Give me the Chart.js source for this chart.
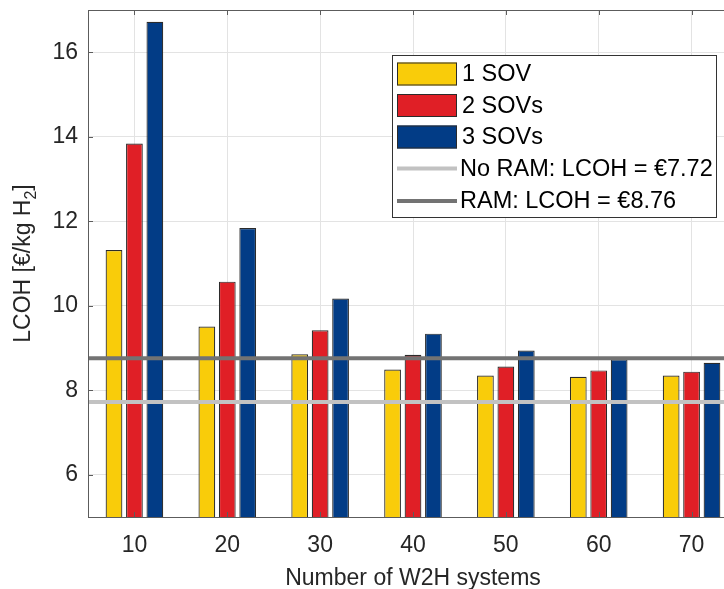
<!DOCTYPE html>
<html>
<head>
<meta charset="utf-8">
<script src="https://cdn.jsdelivr.net/npm/chart.js@4/dist/chart.umd.min.js"></script>
<style>
  html, body { margin: 0; padding: 0; background: #ffffff; overflow: hidden; }
  #wrap { width: 724px; height: 589px; overflow: hidden; }
  canvas { display: block; }
</style>
</head>
<body>
<div id="wrap"><canvas id="chart" width="738" height="589"></canvas></div>
<script>
// LCOH per number of W2H systems, for 1, 2 and 3 SOVs
const categories = ['10', '20', '30', '40', '50', '60', '70'];
const sov1 = [11.32, 9.51, 8.85, 8.49, 8.35, 8.32, 8.35];
const sov2 = [13.84, 10.57, 9.42, 8.84, 8.56, 8.47, 8.44];
const sov3 = [16.72, 11.84, 10.17, 9.34, 8.94, 8.73, 8.65];
const seriesLabels = ['1 SOV', '2 SOVs', '3 SOVs'];
const seriesColors = ['#F9CC0A', '#E01F26', '#023C86'];

// Reference levels
const lcohNoRam = 7.72;
const lcohRam = 8.76;
const refLines = [
  { value: lcohNoRam, label: 'No RAM: LCOH = €' + lcohNoRam.toFixed(2), color: '#c2c2c2' },
  { value: lcohRam, label: 'RAM: LCOH = €' + lcohRam.toFixed(2), color: '#737373' }
];

// Axis
const yMin = 5, yMax = 17;
const yTickValues = [6, 8, 10, 12, 14, 16];

const FONT = "'Liberation Sans', Arial, Helvetica, sans-serif";
const TEXT = '#262626';
const AXIS = '#5c5c5c';

// Horizontal reference lines across the whole plot
const refLinePlugin = {
  id: 'refLines',
  afterDatasetsDraw(chart) {
    const { ctx, chartArea, scales } = chart;
    ctx.save();
    refLines.forEach(r => {
      const y = scales.y.getPixelForValue(r.value);
      ctx.strokeStyle = r.color;
      ctx.lineWidth = 4;
      ctx.beginPath();
      ctx.moveTo(chartArea.left, y);
      ctx.lineTo(chartArea.right, y);
      ctx.stroke();
    });
    ctx.restore();
  }
};

// Box outline and inward tick marks
const boxPlugin = {
  id: 'boxTicks',
  afterDatasetsDraw(chart) {
    const { ctx, chartArea, scales } = chart;
    const { left, right, top, bottom } = chartArea;
    ctx.save();
    ctx.strokeStyle = AXIS;
    ctx.lineWidth = 1;
    ctx.beginPath();
    ctx.moveTo(left, top + 0.5);
    ctx.lineTo(right, top + 0.5);
    ctx.moveTo(left + 0.5, top);
    ctx.lineTo(left + 0.5, bottom);
    ctx.moveTo(left, bottom + 0.5);
    ctx.lineTo(right, bottom + 0.5);
    const tl = 5;
    scales.y.ticks.forEach(t => {
      const y = Math.round(scales.y.getPixelForValue(t.value)) + 0.5;
      ctx.moveTo(left, y);
      ctx.lineTo(left + tl, y);
    });
    categories.forEach((c, i) => {
      const x = Math.round(scales.x.getPixelForValue(i)) + 0.5;
      ctx.moveTo(x, bottom);
      ctx.lineTo(x, bottom - tl);
      ctx.moveTo(x, top);
      ctx.lineTo(x, top + tl);
    });
    ctx.stroke();
    ctx.restore();
  }
};

// Y-axis title with a subscript
const yTitlePlugin = {
  id: 'yTitle',
  afterDraw(chart) {
    const { ctx, chartArea } = chart;
    const main = 'LCOH [€/kg H';
    const sub = '2';
    const tail = ']';
    const big = '23px ' + FONT;
    const small = '16px ' + FONT;
    ctx.save();
    ctx.font = big;
    const w1 = ctx.measureText(main).width;
    const w3 = ctx.measureText(tail).width;
    ctx.font = small;
    const w2 = ctx.measureText(sub).width;
    const total = w1 + w2 + w3;
    const cy = (chartArea.top + chartArea.bottom) / 2;
    ctx.translate(30, cy + total / 2);
    ctx.rotate(-Math.PI / 2);
    ctx.fillStyle = TEXT;
    ctx.textBaseline = 'alphabetic';
    ctx.textAlign = 'left';
    ctx.font = big;
    ctx.fillText(main, 0, 0);
    ctx.font = small;
    ctx.fillText(sub, w1, 6);
    ctx.font = big;
    ctx.fillText(tail, w1 + w2, 0);
    ctx.restore();
  }
};

// Legend box in the upper right
const legendPlugin = {
  id: 'boxLegend',
  afterDraw(chart) {
    const { ctx } = chart;
    const box = { x: 392.5, y: 55.5, w: 324, h: 162 };
    const rows = [74, 105.5, 137, 168.5, 201];
    const swX = 397, swW = 60, swH = 23, textX = 462;
    ctx.save();
    ctx.fillStyle = '#ffffff';
    ctx.fillRect(box.x, box.y, box.w, box.h);
    ctx.strokeStyle = '#333333';
    ctx.lineWidth = 1;
    ctx.strokeRect(box.x, box.y, box.w, box.h);
    ctx.font = '23.5px ' + FONT;
    ctx.textBaseline = 'middle';
    ctx.textAlign = 'left';
    chart.data.datasets.forEach((ds, i) => {
      const cy = rows[i];
      ctx.fillStyle = ds.backgroundColor;
      ctx.fillRect(swX, cy - swH / 2, swW, swH);
      ctx.strokeStyle = '#2b2b2b';
      ctx.strokeRect(swX + 0.5, cy - swH / 2 + 0.5, swW - 1, swH - 1);
      ctx.fillStyle = '#000000';
      ctx.fillText(ds.label, textX, cy + 1);
    });
    refLines.forEach((r, j) => {
      const cy = rows[3 + j];
      ctx.strokeStyle = r.color;
      ctx.lineWidth = 4;
      ctx.beginPath();
      ctx.moveTo(swX, cy);
      ctx.lineTo(swX + swW, cy);
      ctx.stroke();
      ctx.fillStyle = '#000000';
      ctx.fillText(r.label, textX - 2, cy + 1);
    });
    ctx.restore();
  }
};

const seriesData = [sov1, sov2, sov3];

new Chart(document.getElementById('chart'), {
  type: 'bar',
  data: {
    labels: categories,
    datasets: seriesData.map((d, i) => ({
      label: seriesLabels[i],
      data: d,
      backgroundColor: seriesColors[i],
      borderColor: '#2b2b2b',
      borderWidth: 1.2,
      borderSkipped: false,
      categoryPercentage: 0.66,
      barPercentage: 0.82
    }))
  },
  options: {
    responsive: false,
    devicePixelRatio: 1,
    animation: false,
    layout: { padding: { left: 0, right: 0, top: 10, bottom: 0 } },
    plugins: {
      legend: { display: false },
      title: { display: false },
      tooltip: { enabled: false }
    },
    scales: {
      x: {
        type: 'category',
        offset: true,
        grid: { color: '#e3e3e3', drawTicks: false, offset: false },
        border: { display: false },
        ticks: {
          font: { family: FONT, size: 23 },
          color: TEXT,
          padding: 15,
          maxRotation: 0
        },
        title: {
          display: true,
          text: 'Number of W2H systems',
          font: { family: FONT, size: 23 },
          color: TEXT,
          padding: { top: 0, bottom: -3 }
        },
        afterFit(scale) {
          scale.height = 72;
          scale.paddingLeft = 0;
          scale.paddingRight = 0;
        }
      },
      y: {
        min: yMin,
        max: yMax,
        grid: { color: '#e3e3e3', drawTicks: false },
        border: { display: false },
        afterBuildTicks(scale) {
          scale.ticks = yTickValues.map(v => ({ value: v }));
        },
        ticks: {
          font: { family: FONT, size: 23 },
          color: TEXT,
          padding: 10
        },
        afterFit(scale) {
          scale.width = 88;
          scale.paddingTop = 0;
          scale.paddingBottom = 0;
        }
      }
    }
  },
  plugins: [refLinePlugin, boxPlugin, yTitlePlugin, legendPlugin]
});
</script>
</body>
</html>
